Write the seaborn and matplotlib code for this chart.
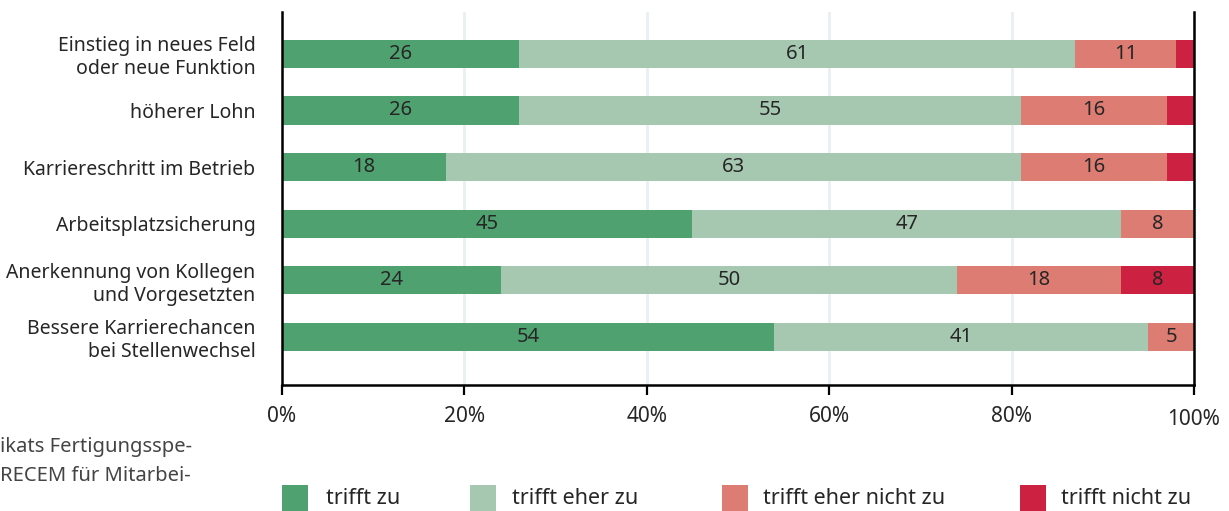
import matplotlib.pyplot as plt
import numpy as np
import pandas as pd
import seaborn as sns
from matplotlib.patches import Rectangle
from matplotlib.transforms import ScaledTranslation

# Daten (Prozentwerte je Aussage)
kategorien = [
    "Einstieg in neues Feld\noder neue Funktion",
    "höherer Lohn",
    "Karriereschritt im Betrieb",
    "Arbeitsplatzsicherung",
    "Anerkennung von Kollegen\nund Vorgesetzten",
    "Bessere Karrierechancen\nbei Stellenwechsel",
]
trifft_zu = [26, 26, 18, 45, 24, 54]
trifft_eher_zu = [61, 55, 63, 47, 50, 41]
trifft_eher_nicht_zu = [11, 16, 16, 8, 18, 5]
trifft_nicht_zu = [2, 3, 3, 0, 8, 0]

antworten = ["trifft zu", "trifft eher zu", "trifft eher nicht zu", "trifft nicht zu"]
farben = ["#50a170", "#a6c8b0", "#dc7c72", "#cc2140"]
x_ticks = [0, 20, 40, 60, 80, 100]
quelle = ["ikats Fertigungsspe-", "RECEM für Mitarbei-"]

W, H = 1229, 511
TEXT = "#262626"

sns.set_theme(style="white")
plt.rcParams["font.family"] = ["Noto Sans", "DejaVu Sans"]

df = pd.DataFrame(
    {
        "kategorie": kategorien,
        antworten[0]: trifft_zu,
        antworten[1]: trifft_eher_zu,
        antworten[2]: trifft_eher_nicht_zu,
        antworten[3]: trifft_nicht_zu,
    }
)
werte = df[antworten].to_numpy(dtype=float)
kumuliert = werte.cumsum(axis=1)

fig = plt.figure(figsize=(W / 100, H / 100), dpi=100)
ax = fig.add_axes([282 / W, 1 - 385 / H, (1194 - 282) / W, (385 - 12) / H])

# gestapelt: von der Gesamtsumme nach vorne zeichnen
for i in range(len(antworten) - 1, -1, -1):
    sns.barplot(
        x=kumuliert[:, i],
        y=df["kategorie"],
        orient="h",
        color=farben[i],
        saturation=1,
        width=0.5,
        linewidth=0,
        ax=ax,
        zorder=2,
    )

# Werte mittig in die Segmente
for r in range(len(kategorien)):
    links = 0
    for i in range(len(antworten)):
        v = werte[r, i]
        if v >= 5:
            ax.text(links + v / 2, r, f"{int(v)}", ha="center", va="center",
                    fontsize=14.5, color=TEXT, zorder=3)
        links += v

ax.set_xlim(0, 100)
ax.set_ylim(5.85, -0.74)
ax.set_xticks(x_ticks)
ax.set_xticklabels([f"{t}%" for t in x_ticks])
ax.set_xlabel("")
ax.set_ylabel("")
ax.set_axisbelow(True)
ax.xaxis.grid(True, color="#e8f0f4", linewidth=2)

ax.tick_params(axis="x", direction="out", length=7, width=1.6, color="black",
               pad=8, labelsize=15, labelcolor=TEXT, bottom=True)
ax.tick_params(axis="y", length=0, pad=19, labelsize=14, labelcolor=TEXT)
for lbl in ax.get_yticklabels():
    lbl.set_linespacing(1.2)
# "100%" sitzt im Original etwas tiefer
letzte = ax.get_xticklabels()[-1]
letzte.set_transform(letzte.get_transform() + ScaledTranslation(0, -0.03, fig.dpi_scale_trans))

for side in ["left", "bottom", "right"]:
    ax.spines[side].set_visible(True)
    ax.spines[side].set_color("black")
    ax.spines[side].set_linewidth(1.8)
ax.spines["top"].set_visible(False)

# Legende unten
legende_x = [(282, 326), (470, 512), (722, 763), (1020, 1061)]
for (xq, xt), farbe, text in zip(legende_x, farben, antworten):
    fig.add_artist(Rectangle((xq / W, 0), 26 / W, 26 / H, transform=fig.transFigure,
                             facecolor=farbe, edgecolor="none"))
    fig.text(xt / W, 1 - 498 / H, text, ha="left", va="center", fontsize=15.5, color=TEXT)

# abgeschnittene Quellenangabe links
for k, zeile in enumerate(quelle):
    fig.text(0, 1 - (447 + 29 * k) / H, zeile, ha="left", va="center", fontsize=14.5, color="#444444")

fig.savefig("out.png", dpi=100)
